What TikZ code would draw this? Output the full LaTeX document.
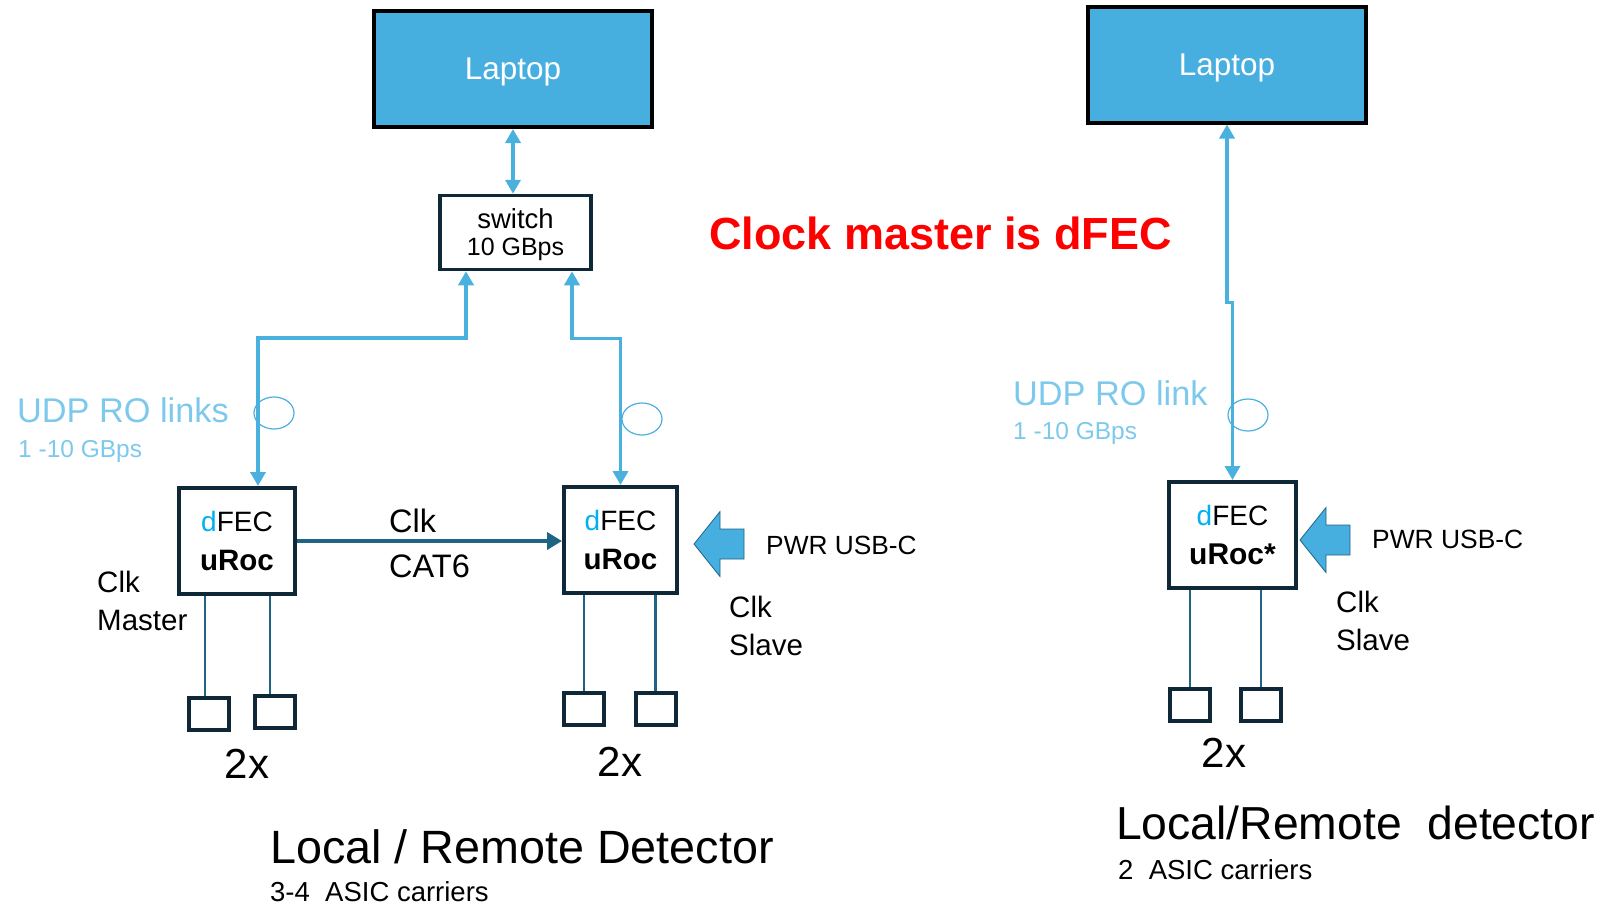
\documentclass[tikz,border=0pt]{standalone}
\usepackage{fontspec}
\setmainfont{Liberation Sans}
\usetikzlibrary{arrows.meta,shapes.geometric,calc}
\definecolor{lapblue}{RGB}{71,175,224}
\definecolor{linkblue}{RGB}{74,176,222}
\definecolor{navy}{RGB}{14,40,56}
\definecolor{clkblue}{RGB}{31,99,133}
\definecolor{udpblue}{RGB}{125,201,236}
\definecolor{dcyan}{RGB}{0,176,240}
\newcommand\fsz[2]{\fontsize{#1}{#2}\selectfont}
\tikzset{
  laptopbox/.style={draw=black, line width=4pt, fill=lapblue, minimum width=278pt, minimum height=116pt, inner sep=0pt, text=white, text depth=0pt, font=\fsz{31.5}{36}},
  switchbox/.style={draw=navy, line width=3.5pt, fill=white, minimum width=151pt, minimum height=74pt, inner sep=0pt, align=center, text depth=0pt, font=\fsz{25}{27}},
  fecbox/.style={draw=navy, line width=4pt, fill=white, minimum height=106pt, inner sep=0pt, align=center, font=\fsz{28}{39}},
  asic/.style={draw=navy, line width=4pt, minimum width=40pt, minimum height=32pt, inner sep=0pt},
  link/.style={draw=linkblue, line width=3.5pt, {Triangle[length=14pt,width=15pt]}-{Triangle[length=14pt,width=15pt]}},
  leg/.style={draw=clkblue, line width=2.5pt},
  clkarrow/.style={draw=clkblue, line width=4pt, -{Triangle[length=15pt,width=17pt]}},
  ring/.style={ellipse, draw=linkblue, line width=1.2pt, minimum width=40pt, minimum height=32pt, inner sep=0pt},
  pwrshape/.style={fill=lapblue, draw=clkblue, line width=0.8pt, line join=miter},
  lbl/.style={inner sep=0pt, anchor=base west},
  two/.style={inner sep=0pt, anchor=base, font=\fsz{42}{42}}
}
\begin{document}
\begin{tikzpicture}[x=1pt,y=-1pt]
\useasboundingbox (0,0) rectangle (1606,905);

% ---------- left / middle system ----------
\node[laptopbox] (lap1) at (513,69) {Laptop};
\node[switchbox] (sw) at (515.5,232.5) {{\fsz{27.5}{27}switch}\\10 GBps};
\node[fecbox, minimum width=116pt] (fecA) at (237,541) {\textcolor{dcyan}{d}FEC\\{\fsz{29.5}{39}\textbf{uRoc}}};
\node[fecbox, minimum width=113pt] (fecB) at (620.5,540) {\textcolor{dcyan}{d}FEC\\{\fsz{29.5}{39}\textbf{uRoc}}};

\node[asic] (A1) at (209,714) {};
\node[asic] (A2) at (275,712) {};
\node[asic] (B1) at (584,709) {};
\node[asic] (B2) at (655.5,709) {};

\draw[leg] ([xshift=-4pt]A1.north) -- ([xshift=-4pt]A1.north |- fecA.south);
\draw[leg] ([xshift=-5pt]A2.north) -- ([xshift=-5pt]A2.north |- fecA.south);
\draw[leg] (B1.north) -- (B1.north |- fecB.south);
\draw[leg] (B2.north) -- (B2.north |- fecB.south);

\draw[link] (lap1.south) -- (lap1.south |- sw.north);
\draw[link] ([xshift=21pt]fecA.north) -- ++(0,-148) -| ([xshift=-49.5pt]sw.south);
\draw[link] ([xshift=56.5pt]sw.south) -- ++(0,67) -| (fecB.north);

\node[ring] (ringA) at (274,413) {};
\node[ring] (ringB) at (642,419) {};

\draw[clkarrow] (fecA.east) -- (fecA.east -| fecB.west);

\coordinate (pwrB) at (694,544);
\draw[pwrshape] (pwrB) -- ++(26,-32.5) -- ++(0,17.5) -- ++(24,0) -- ++(0,30) -- ++(-24,0) -- ++(0,17.5) -- cycle;

\node[lbl, text=udpblue, font=\fsz{34.3}{34}] (udpA) at (17,422.5) {UDP RO links};
\node[lbl, text=udpblue, font=\fsz{24.5}{24}] (rateA) at (18,457.5) {1 -10 GBps};
\node[lbl, font=\fsz{29.5}{29}] (clkA) at (97,592) {Clk};
\node[lbl, font=\fsz{29.5}{29}] (mastA) at (97,630) {Master};
\node[lbl, font=\fsz{32.5}{32}] (clkM) at (389,532) {Clk};
\node[lbl, font=\fsz{32.5}{32}] (catM) at (389,577) {CAT6};
\node[lbl, font=\fsz{26.3}{26}] (pwrtB) at (766,554) {PWR USB-C};
\node[lbl, font=\fsz{29.5}{29}] (clkB) at (729,617) {Clk};
\node[lbl, font=\fsz{29.5}{29}] (slvB) at (729,655) {Slave};
\node[two] (twoA) at (247,778) {2x};
\node[two] (twoB) at (620,776) {2x};
\node[lbl, font=\fsz{46.7}{46}] (titleA) at (270,863.5) {Local / Remote Detector};
\node[lbl, font=\fsz{27.5}{27}] (subA) at (270,901) {3-4\ \ ASIC carriers};

% ---------- headline ----------
\node[lbl, text=red, font=\fsz{45}{45}\bfseries] (head) at (709,249) {Clock master is dFEC};

% ---------- right system ----------
\node[laptopbox] (lap2) at (1227,64.5) {Laptop};
\node[fecbox, minimum width=127pt] (fecC) at (1232.5,535) {\textcolor{dcyan}{d}FEC\\{\fsz{30}{39}\textbf{uRoc*}}};
\node[asic] (C1) at (1190,705) {};
\node[asic] (C2) at (1261,705) {};
\draw[leg] (C1.north) -- (C1.north |- fecC.south);
\draw[leg] (C2.north) -- (C2.north |- fecC.south);
\draw[link] (lap2.south) -- ++(0,178) -| (fecC.north);
\node[ring] (ringC) at (1248,415) {};
\coordinate (pwrC) at (1300,540);
\draw[pwrshape] (pwrC) -- ++(26,-32.5) -- ++(0,17.5) -- ++(24,0) -- ++(0,30) -- ++(-24,0) -- ++(0,17.5) -- cycle;

\node[lbl, text=udpblue, font=\fsz{34.3}{34}] (udpC) at (1013,405) {UDP RO link};
\node[lbl, text=udpblue, font=\fsz{24.5}{24}] (rateC) at (1013,439.5) {1 -10 GBps};
\node[lbl, font=\fsz{26.4}{26}] (pwrtC) at (1372,548) {PWR USB-C};
\node[lbl, font=\fsz{29.5}{29}] (clkC) at (1336,612) {Clk};
\node[lbl, font=\fsz{29.5}{29}] (slvC) at (1336,650) {Slave};
\node[two] (twoC) at (1224,767) {2x};
\node[lbl, font=\fsz{46.3}{46}] (titleC) at (1116,839) {Local/Remote\ \ detector};
\node[lbl, font=\fsz{27.5}{27}] (subC) at (1118,879) {2\ \ ASIC carriers};
\end{tikzpicture}
\end{document}
